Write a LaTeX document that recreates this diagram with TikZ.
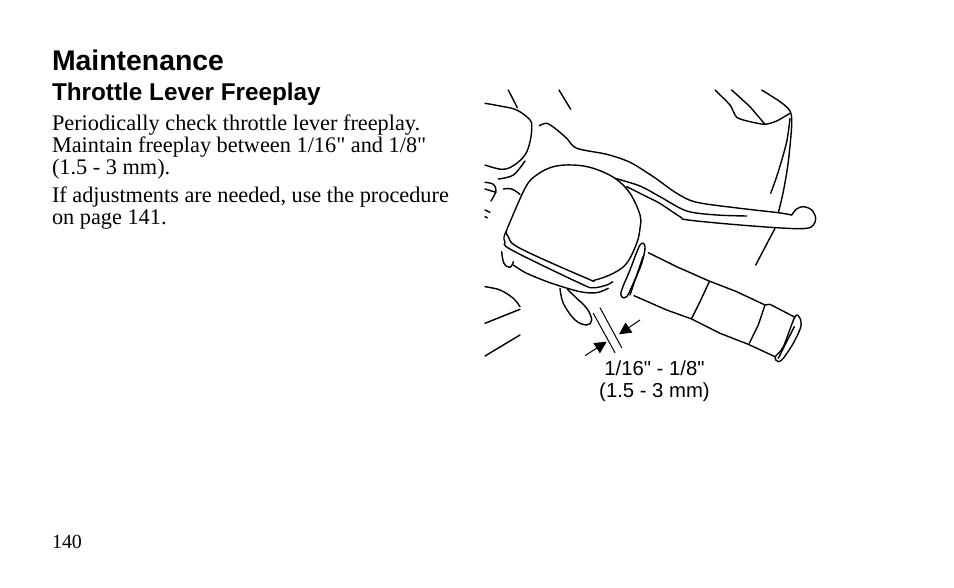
\documentclass[tikz,border=0pt]{standalone}
\usepackage{fontspec}
\usetikzlibrary{arrows.meta}
\newfontfamily\headfont{Liberation Sans}
\newfontfamily\bodyfont{Liberation Serif}
\tikzset{
  sketch/.style={line width=1.4pt,line cap=round,line join=round},
  thinsketch/.style={line width=1pt,line cap=round},
  gaparrow/.style={line width=1pt,-{Triangle[length=12pt,width=12pt]}},
  plain/.style={inner sep=0pt,outer sep=0pt}
}
\begin{document}
\begin{tikzpicture}[x=1pt,y=-1pt]
\useasboundingbox (0,0) rectangle (954,588);
% page text
\node[plain,anchor=base west,font=\headfont\bfseries\fontsize{28.4}{30}\selectfont] (title) at (52,71) {Maintenance};
\node[plain,anchor=base west,font=\headfont\bfseries\fontsize{24.3}{26}\selectfont] (subtitle) at (52,101) {Throttle Lever Freeplay};
\node[plain,anchor=base west,font=\bodyfont\fontsize{22.3}{20}\selectfont] (linea) at (52,131) {Periodically check throttle lever freeplay.};
\node[plain,anchor=base west,font=\bodyfont\fontsize{22.3}{20}\selectfont] (lineb) at (52,153) {Maintain freeplay between 1/16" and 1/8"};
\node[plain,anchor=base west,font=\bodyfont\fontsize{22.3}{20}\selectfont] (linec) at (52,175) {(1.5 - 3 mm).};
\node[plain,anchor=base west,font=\bodyfont\fontsize{22.3}{20}\selectfont] (lined) at (52,203) {If adjustments are needed, use the procedure};
\node[plain,anchor=base west,font=\bodyfont\fontsize{22.3}{20}\selectfont] (linee) at (52,225) {on page 141.};
\node[plain,anchor=base west,font=\bodyfont\fontsize{20}{20}\selectfont] (pagenum) at (52,548) {140};
\node[plain,anchor=base,font=\headfont\fontsize{20.3}{20}\selectfont] (gapa) at (654.5,375) {1/16" - 1/8"};
\node[plain,anchor=base,font=\headfont\fontsize{20.3}{20}\selectfont] (gapb) at (654.5,397) {(1.5 - 3 mm)};
% housing on the left
\draw[sketch] plot[smooth,tension=.6] coordinates {(485,103.3) (500,106) (516.7,110) (530,120) (531.7,128.3) (530,141.7) (525,155) (513.3,165.7) (501.7,169.3) (485,165)};
\draw[sketch] (508.3,90) -- (517.3,107.7);
\draw[sketch] (559,90) -- (570.7,109.3);
\draw[sketch] plot[smooth,tension=.6] coordinates {(498.3,179) (513.3,175) (525,161)};
\draw[sketch] plot[smooth,tension=.6] coordinates {(485,182.3) (493.3,184.3) (496,191) (491,201)};
\draw[sketch] (485,189) -- (496,192.3);
\draw[sketch] plot[smooth,tension=.6] coordinates {(503.3,189) (511.7,189) (520,194.3)};
\draw[sketch] (485,210) -- (490,212.3);
\draw[sketch] (485,216.7) -- (487.3,217.7);
\draw[sketch] plot[smooth,tension=.6] coordinates {(485,286.7) (500,290) (513.3,298.3) (520,306.7)};
\draw[sketch] (485,323.3) -- (520,309.3);
\draw[sketch] (485,356) -- (520,335);
% lever
\draw[sketch] plot[smooth,tension=.5] coordinates {(539.3,125.7) (546.7,123.3) (555,128.3) (566.7,138.3) (576.7,148.3) (606.7,154.3) (630,162.3) (653.3,176.7) (676.7,193.3) (696.7,202.3) (740,208.3) (778.3,212.7) (791.7,215)};
\draw[sketch] plot[smooth,tension=.6] coordinates {(791.7,215) (796.7,209) (803.3,206.7) (811.7,210) (815.7,218.3) (813.3,225) (806.7,228.3) (786.7,228.3) (740,225) (688.3,220) (680,216.7) (660,203.5) (646.7,196.7) (626.7,186.7)};
\draw[sketch] plot[smooth,tension=.5] coordinates {(615,178.3) (640,186) (660,196.7) (686.7,211) (716.7,215) (746.7,216)};
% top right shapes
\draw[sketch] plot[smooth,tension=.4] coordinates {(715,90) (730,105) (736.7,117.3) (750,121.7) (765,124.3) (776.7,121) (790,113.3)};
\draw[sketch] (731.7,90) -- (750,106.7) -- (765,124.3);
\draw[sketch] plot[smooth,tension=.5] coordinates {(761.7,90) (780,101.7) (790,111) (791.7,125) (788.3,161.7) (783.3,191.7) (778.3,212.7)};
\draw[sketch] plot[smooth,tension=.5] coordinates {(790,118.3) (786.7,141.7) (778.3,171.7) (770.7,193.3)};
\draw[sketch] (775,228.3) -- (755.7,265);
% switch housing
\draw[sketch] plot[smooth,tension=.6] coordinates {(506,231.7) (525,188.3) (536.7,175) (553.3,166.7) (573.3,165) (593.3,168.3) (615,178.3) (630,193.3) (640,215) (640,228.3) (636.7,243.3) (626.7,263.3) (613.3,273.3) (595,280) (586.7,278.3) (520,248.3) (508.3,236.7) (506,231.7)};
\draw[sketch] plot[smooth,tension=.6] coordinates {(506,231.7) (504,237) (505,242) (511.7,250) (580,283.3) (593.3,287.7) (606.7,285) (612.7,281.7)};
\draw[sketch] plot[smooth,tension=.7] coordinates {(501.7,251.7) (504,263.3) (510,267.3) (513.3,261.7)};
\draw[sketch] plot[smooth,tension=.5] coordinates {(513.3,265) (526.7,273.3) (551.7,283.3) (580,291.7) (596.7,292.7) (608.3,288.3)};
% throttle loop under the housing
\draw[sketch] plot[smooth,tension=.6] coordinates {(560,288.3) (563.3,303.3) (575,320) (586.7,325) (591.7,320) (586.7,308.3) (575,296.7) (567.3,289.3)};
% grip
\draw[sketch] plot[smooth cycle,tension=.6] coordinates {(640,245) (645,246.7) (641.7,263.3) (633.3,283.3) (626.7,296.7) (621.7,296.7) (621.7,290) (630,270)};
\draw[sketch] (643,256.7) -- (630,295);
\draw[sketch] (648.3,252.7) -- (676.7,266.7) -- (708.3,280.7) -- (736.7,291.7) -- (765,305) -- (770,304.3) -- (795,317.3);
\draw[sketch] (634,295.7) -- (666.7,310) -- (691.7,319) -- (720,333.3) -- (748.3,344.3) -- (775,356.7);
\draw[sketch] (709.3,281.7) -- (700,301.7) -- (691.7,318.3);
\draw[sketch] (765,305) -- (758.3,325) -- (749.3,343.3);
\draw[sketch] plot[smooth cycle,tension=.5] coordinates {(795,316.7) (800,318.3) (800.7,327.3) (793.3,343.3) (783.3,358.3) (778.3,361.7) (775,357.3) (783.3,346.7)};
\draw[sketch] (794.3,326.7) -- (778.3,358.3);
% gap marks
\coordinate (gaplinea) at (593.3,313.3);
\coordinate (gaplineb) at (615,352.7);
\coordinate (gaplinec) at (600,307.7);
\coordinate (gaplined) at (621.7,347.7);
\draw[thinsketch] (gaplinea) -- (gaplineb);
\draw[thinsketch] (gaplinec) -- (gaplined);
\coordinate (arrowa) at (585,355.7);
\coordinate (tipa) at (606.7,341.7);
\coordinate (arrowb) at (640,320);
\coordinate (tipb) at (619,334.3);
\draw[gaparrow] (arrowa) -- (tipa);
\draw[gaparrow] (arrowb) -- (tipb);
\end{tikzpicture}
\end{document}
